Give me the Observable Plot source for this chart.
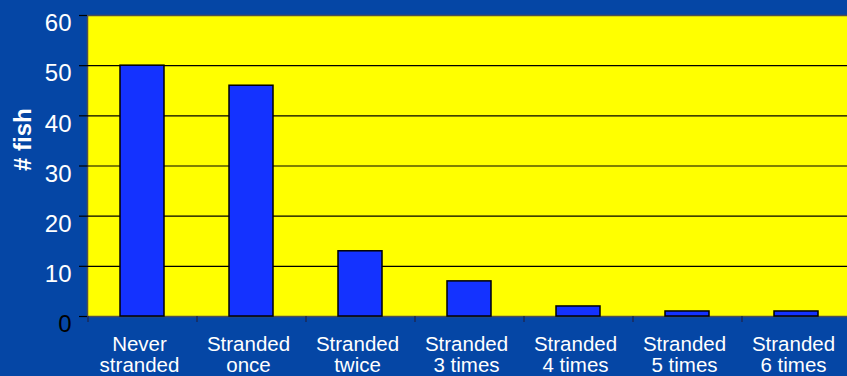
<!DOCTYPE html>
<html>
<head>
<meta charset="utf-8">
<script src="https://cdn.jsdelivr.net/npm/d3@7"></script>
<script src="https://cdn.jsdelivr.net/npm/@observablehq/plot@0.6"></script>
<style>
  html, body { margin: 0; padding: 0; background: #0546a5; }
  #chart svg { display: block; }
</style>
</head>
<body>
<div id="chart"></div>
<script>
const categories = ["Never\nstranded", "Stranded\nonce", "Stranded\ntwice", "Stranded\n3 times", "Stranded\n4 times", "Stranded\n5 times", "Stranded\n6 times"];
const fishCounts = [50, 46, 13, 7, 2, 1, 1];
const yTicks = [0, 10, 20, 30, 40, 50, 60];
const yLabel = "# fish";

const data = categories.map((c, i) => ({category: c, count: fishCounts[i]}));

const W = 847, H = 376;
const mL = 87, mR = -3, mT = 15, mB = 60;
const step = (W - mR - mL) / categories.length;

const chart = Plot.plot({
  width: W,
  height: H,
  marginLeft: mL,
  marginRight: mR,
  marginTop: mT,
  marginBottom: mB,
  style: {background: "#0546a5", color: "white", fontFamily: "'Liberation Sans', Arial, sans-serif", overflow: "hidden"},
  x: {domain: categories, paddingInner: 0.6, paddingOuter: 0.3, label: null},
  y: {domain: [0, 60], label: null},
  marks: [
    Plot.frame({fill: "#ffff00", stroke: "#505050", strokeWidth: 1.5}),
    Plot.ruleY(yTicks.filter(d => d > 0 && d < 60), {stroke: "black", strokeWidth: 1.2}),
    Plot.barY(data, {x: "category", y: "count", fill: "#1432ff", stroke: "black", strokeWidth: 1.5}),
    // y ticks
    Plot.axisY({ticks: yTicks, tickSize: 8, stroke: "black", strokeWidth: 1.2, text: null, label: null}),
    // y tick labels (white)
    Plot.axisY({ticks: yTicks.filter(d => d > 0), tickSize: 0, tickPadding: 16, dy: 8, fontSize: 24, fill: "white", label: null}),
    // zero label (black)
    Plot.axisY({ticks: [0], tickSize: 0, tickPadding: 16, dy: 8, fontSize: 24, fill: "black", label: null}),
    // x ticks at band boundaries
    Plot.axisX({tickSize: 6, stroke: "#1a2a5a", strokeWidth: 1.5, dx: -step / 2, text: null, label: null}),
    // x tick labels
    Plot.axisX({tickSize: 0, tickPadding: 20, fontSize: 20.5, lineHeight: 1.02, dx: -3, fill: "white", label: null}),
    // y axis title
    Plot.text([yLabel], {frameAnchor: "left", rotate: -90, dx: -64.5, dy: 5, fontSize: 24, fontWeight: "bold", fill: "white"})
  ]
});

document.getElementById("chart").appendChild(chart);
</script>
</body>
</html>
